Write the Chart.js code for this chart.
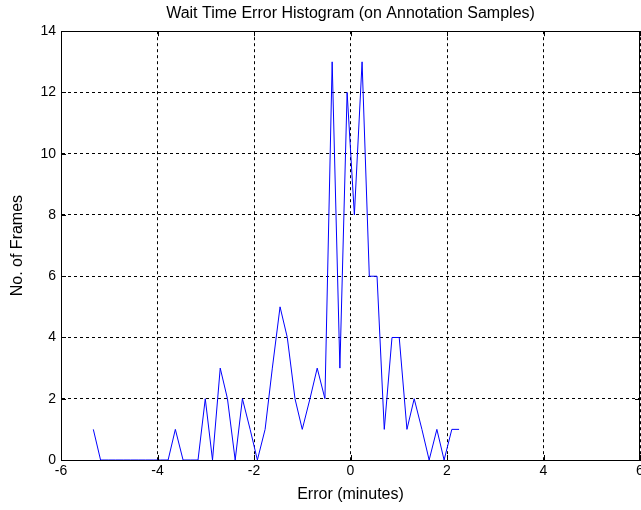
<!DOCTYPE html>
<html>
<head>
<meta charset="utf-8">
<script src="https://cdn.jsdelivr.net/npm/chart.js@4/dist/chart.umd.min.js"></script>
<style>
  html, body { margin: 0; padding: 0; background: #fff; overflow: hidden; }
  canvas { display: block; }
</style>
</head>
<body>
<canvas id="histChart" width="641" height="510"></canvas>
<script>
// bin centres (minutes)
const binCenters = [
  -5.33, -5.18, -5.02, -4.87, -4.71, -4.56, -4.40, -4.25, -4.09, -3.94,
  -3.78, -3.63, -3.47, -3.32, -3.16, -3.01, -2.86, -2.70, -2.55, -2.39,
  -2.24, -2.08, -1.93, -1.77, -1.62, -1.46, -1.31, -1.15, -1.00, -0.84,
  -0.69, -0.53, -0.38, -0.22, -0.07, 0.08, 0.24, 0.39, 0.55, 0.70,
  0.86, 1.01, 1.17, 1.32, 1.48, 1.63, 1.79, 1.94, 2.10, 2.25
];

// frame counts per bin
const frameCounts = [
  1, 0, 0, 0, 0, 0, 0, 0, 0, 0,
  0, 1, 0, 0, 0, 2, 0, 3, 2, 0,
  2, 1, 0, 1, 3, 5, 4, 2, 1, 2,
  3, 2, 13, 3, 12, 8, 13, 6, 6, 1,
  4, 4, 1, 2, 1, 0, 1, 0, 1, 1
];

const xTicks = [-6, -4, -2, 0, 2, 4, 6];
const yTicks = [0, 2, 4, 6, 8, 10, 12, 14];

const chartTitle = "Wait Time Error Histogram (on Annotation Samples)";
const xTitle = "Error (minutes)";
const yTitle = "No. of Frames";

const FONT = "Arial, 'Liberation Sans', sans-serif";

// matlab style box + inward tick marks
const boxPlugin = {
  id: "boxPlugin",
  afterDraw(chart) {
    const { ctx, chartArea: a, scales } = chart;
    ctx.save();
    ctx.strokeStyle = "#000";
    ctx.lineWidth = 1;
    ctx.setLineDash([]);
    ctx.strokeRect(Math.round(a.left) + 0.5, Math.round(a.top) + 0.5,
      Math.round(a.right - a.left) - 1, Math.round(a.bottom - a.top));

    const len = 5;
    ctx.beginPath();
    xTicks.forEach(v => {
      const px = Math.round(scales.x.getPixelForValue(v)) + 0.5;
      ctx.moveTo(px, a.bottom); ctx.lineTo(px, a.bottom - len);
      ctx.moveTo(px, a.top); ctx.lineTo(px, a.top + len);
    });
    yTicks.forEach(v => {
      const py = Math.round(scales.y.getPixelForValue(v)) + 0.5;
      ctx.moveTo(a.left, py); ctx.lineTo(a.left + len, py);
      ctx.moveTo(a.right, py); ctx.lineTo(a.right - len, py);
    });
    ctx.stroke();
    ctx.restore();
  }
};

const points = binCenters.map((x, i) => ({ x: x, y: frameCounts[i] }));

new Chart(document.getElementById("histChart"), {
  type: "line",
  data: {
    datasets: [{
      data: points,
      borderColor: "#0000ff",
      borderWidth: 1,
      pointRadius: 0,
      tension: 0,
      fill: false
    }]
  },
  options: {
    responsive: false,
    animation: false,
    devicePixelRatio: 1,
    layout: { padding: { left: 0, right: 1, top: 0, bottom: 0 } },
    plugins: {
      legend: { display: false },
      tooltip: { enabled: false },
      title: {
        display: true,
        text: chartTitle,
        fullSize: false,
        color: "#000",
        font: { family: FONT, size: 16, weight: "normal" },
        padding: { top: 4, bottom: 8 }
      }
    },
    scales: {
      x: {
        type: "linear",
        min: -6,
        max: 6,
        afterBuildTicks(scale) {
          scale.ticks = xTicks.map(v => ({ value: v }));
        },
        afterFit(scale) {
          scale.height = 50;
          scale.paddingLeft = 0;
          scale.paddingRight = 0;
        },
        ticks: {
          color: "#000",
          font: { family: FONT, size: 14 },
          padding: 3,
          maxRotation: 0,
          autoSkip: false
        },
        grid: {
          color: "#000",
          lineWidth: 1,
          drawTicks: false
        },
        border: { display: true, color: "#000", dash: [3, 3] },
        title: {
          display: true,
          text: xTitle,
          color: "#000",
          font: { family: FONT, size: 16 },
          padding: { top: 2, bottom: 6 }
        }
      },
      y: {
        min: 0,
        max: 14,
        afterBuildTicks(scale) {
          scale.ticks = yTicks.map(v => ({ value: v }));
        },
        afterFit(scale) {
          scale.width = 61;
          scale.paddingTop = 0;
          scale.paddingBottom = 0;
        },
        ticks: {
          color: "#000",
          font: { family: FONT, size: 14 },
          padding: 5
        },
        grid: {
          color: "#000",
          lineWidth: 1,
          drawTicks: false
        },
        border: { display: true, color: "#000", dash: [3, 3] },
        title: {
          display: true,
          text: yTitle,
          color: "#000",
          font: { family: FONT, size: 16 },
          padding: { top: 8, bottom: 12 }
        }
      }
    }
  },
  plugins: [boxPlugin]
});
</script>
</body>
</html>
